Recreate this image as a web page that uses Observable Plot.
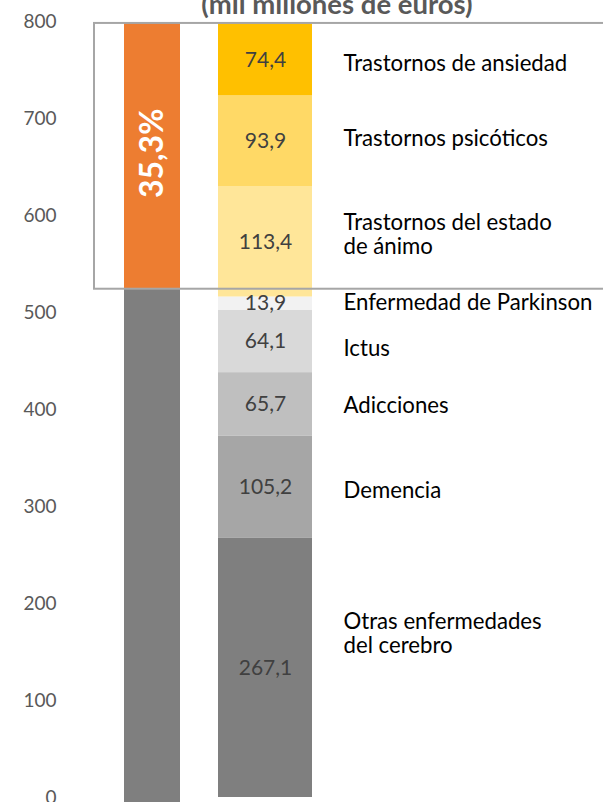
<!DOCTYPE html>
<html><head><meta charset="utf-8">
<script src="https://cdn.jsdelivr.net/npm/d3@7"></script>
<script src="https://cdn.jsdelivr.net/npm/@observablehq/plot@0.6"></script>
<style>html,body{margin:0;padding:0;background:#fff} #chart svg{display:block}</style>
</head><body><div id="chart"></div>
<script>
// Right bar: cost per brain disorder (mil millones de euros), bottom to top
const categories = [
  "Otras enfermedades\ndel cerebro",
  "Demencia",
  "Adicciones",
  "Ictus",
  "Enfermedad de Parkinson",
  "Trastornos del estado\nde ánimo",
  "Trastornos psicóticos",
  "Trastornos de ansiedad"
];
const values = [267.1, 105.2, 65.7, 64.1, 13.9, 113.4, 93.9, 74.4];
const colors = ["#7f7f7f", "#a6a6a6", "#bfbfbf", "#d9d9d9", "#f2f2f2", "#ffe699", "#ffd966", "#ffc000"];

// Left bar: total split (rest vs highlighted share)
const totalParts = ["Resto", "Trastornos mentales"];
const totalValues = [524, 274];
const totalColors = ["#7f7f7f", "#ed7d31"];
const shareLabel = "35,3%";

const yTicks = [0, 100, 200, 300, 400, 500, 600, 700, 800];
const bars = ["total", "detalle"];
const title = "(mil millones de euros)";

// build stacked rows
let acc = 0;
const rows = categories.map((c, i) => {
  const y1 = acc; acc += values[i];
  return {cat: c, value: values[i], y1, y2: acc, mid: (y1 + acc) / 2, color: colors[i], bar: "detalle"};
});
let acc2 = 0;
const totalRows = totalParts.map((c, i) => {
  const y1 = acc2; acc2 += totalValues[i];
  return {cat: c, value: totalValues[i], y1, y2: acc2, mid: (y1 + acc2) / 2, color: totalColors[i], bar: "total"};
});
const highlight = totalRows[1];

const fmt = v => v.toFixed(1).replace(".", ",");
// small vertical nudges (px) of the category labels, as placed in the original
const labelNudge = [-35, 3, 1, 7, -2, -8, -3, 3];

const chart = Plot.plot({
  width: 603,
  height: 802,
  marginTop: 21,
  marginBottom: 5,
  marginLeft: 60,
  marginRight: 0,
  style: {fontFamily: "Lato, sans-serif", background: "#fff"},
  x: {type: "band", domain: bars, range: [100, 330], padding: 0, axis: null},
  y: {domain: [0, 800], axis: null},
  marks: [
    Plot.axisY({ticks: yTicks, tickSize: 0, tickPadding: 4, fontSize: 19, fill: "#595959", tickFormat: d => String(d), label: null}),
    // left bar
    Plot.barY(totalRows, {filter: d => d.y1 === 0, x: "bar", y1: "y1", y2: "y2", fill: "color", insetLeft: 24, insetRight: 35, insetBottom: -5}),
    Plot.barY(totalRows, {filter: d => d.y1 !== 0, x: "bar", y1: "y1", y2: "y2", fill: "color", insetLeft: 24, insetRight: 35}),
    Plot.text([highlight], {x: "bar", y: "mid", text: () => shareLabel, rotate: -90, fill: "#fff", fontWeight: "bold", fontSize: 32, dx: -5.5, dy: -3}),
    // right bar
    Plot.barY(rows, {x: "bar", y1: "y1", y2: "y2", fill: "color", insetLeft: 3, insetRight: 18}),
    Plot.text(rows, {x: "bar", y: "mid", text: d => fmt(d.value), fill: "#404040", fontSize: 21, dx: -7.5}),
    ...rows.map((r, i) => Plot.text([r], {x: "bar", y: "mid", text: "cat", textAnchor: "start", fill: "#000", fontSize: 22.2, lineHeight: 1.1, dx: 70.5, dy: labelNudge[i]})),
    // highlight box
    Plot.rect([highlight], {y1: "y1", y2: "y2", insetLeft: 34, insetRight: -10, fill: "none", stroke: "#a6a6a6", strokeWidth: 2}),
    // title (partly cut at top)
    Plot.text([title], {frameAnchor: "top", text: d => d, fontWeight: "bold", fontSize: 27.5, fill: "#595959", dx: 5, dy: -27, lineAnchor: "top"})
  ]
});
document.getElementById("chart").append(chart);
</script>
</body></html>
